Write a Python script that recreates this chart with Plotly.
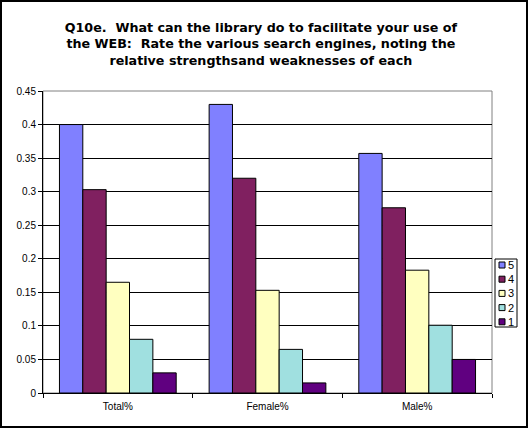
import plotly.graph_objects as go

categories = ["Total%", "Female%", "Male%"]
ratings = ["5", "4", "3", "2", "1"]
rating_5 = [0.400, 0.430, 0.357]
rating_4 = [0.303, 0.320, 0.276]
rating_3 = [0.165, 0.153, 0.183]
rating_2 = [0.080, 0.065, 0.101]
rating_1 = [0.030, 0.015, 0.050]
y_ticks = [0, 0.05, 0.1, 0.15, 0.2, 0.25, 0.3, 0.35, 0.4, 0.45]

colors = ["#8080FF", "#802060", "#FFFFC0", "#A0E0E0", "#600080"]
series = [rating_5, rating_4, rating_3, rating_2, rating_1]

# plot area in pixels: x 43..492, y 91..393
L, T, W, H = 43, 91, 449, 302


def px(x, y):
    """pixel position -> paper coordinates"""
    return (x - L) / W, (T + H - y) / H


fig = go.Figure()

for name, vals, col in zip(ratings, series, colors):
    fig.add_trace(
        go.Bar(
            x=categories,
            y=vals,
            name=name,
            marker=dict(color=col, line=dict(color="black", width=1)),
            showlegend=False,
        )
    )

# plot-area frame (grey) and outer black border
fig.add_shape(type="rect", xref="paper", yref="paper", x0=0, y0=0, x1=1, y1=1,
              line=dict(color="#808080", width=1), layer="below")
bx0, by0 = px(1, 427)
bx1, by1 = px(527, 1)
fig.add_shape(type="rect", xref="paper", yref="paper",
              x0=bx0, x1=bx1, y0=by0, y1=by1,
              line=dict(color="black", width=2))

# small Excel-style legend box to the right
lx0, ly0 = px(495, 327)
lx1, ly1 = px(517, 259)
fig.add_shape(type="rect", xref="paper", yref="paper",
              x0=lx0, x1=lx1, y0=ly0, y1=ly1,
              line=dict(color="black", width=1), fillcolor="white")
for i, (name, col) in enumerate(zip(ratings, colors)):
    yc = 265 + i * 14.2
    sx0, sy0 = px(499, yc + 3)
    sx1, sy1 = px(505, yc - 3)
    fig.add_shape(type="rect", xref="paper", yref="paper",
                  x0=sx0, x1=sx1, y0=sy0, y1=sy1,
                  line=dict(color="black", width=1), fillcolor=col)
    tx, ty = px(506, yc)
    fig.add_annotation(x=tx, y=ty, xref="paper", yref="paper", text=name,
                       showarrow=False, xanchor="left", yanchor="middle",
                       font=dict(size=11))

fig.update_layout(
    width=528,
    height=428,
    margin=dict(l=L, r=528 - L - W, t=T, b=428 - T - H),
    paper_bgcolor="white",
    plot_bgcolor="white",
    barmode="group",
    bargap=0.22,
    bargroupgap=0,
    title=dict(
        text="<b>Q10e.  What can the library do to facilitate your use of<br>"
             "the WEB:  Rate the various search engines, noting the<br>"
             "relative strengthsand weaknesses of each</b>",
        x=0.494,
        xanchor="center",
        y=0.926,
        yanchor="top",
        font=dict(family="DejaVu Sans", size=12.7, color="black"),
    ),
    font=dict(family="Liberation Sans", size=10, color="black"),
    showlegend=False,
)

fig.update_xaxes(
    showline=True,
    linecolor="black",
    linewidth=1,
    ticks="outside",
    tickson="boundaries",
    ticklen=4,
    tickcolor="black",
    tickfont=dict(size=10),
    ticklabelstandoff=4,
    automargin=False,
)
fig.update_yaxes(
    range=[0, 0.45],
    tickvals=y_ticks,
    ticktext=[f"{v:g}" for v in y_ticks],
    showline=True,
    linecolor="black",
    linewidth=1,
    ticks="outside",
    ticklen=4,
    tickcolor="black",
    showgrid=True,
    gridcolor="black",
    gridwidth=1,
    zeroline=False,
    automargin=False,
)

# drop the default page margin so the figure sits at the window's corner
fig.write_html("out.html", config={"displayModeBar": False},
               post_script="document.body.style.margin = '0';")
